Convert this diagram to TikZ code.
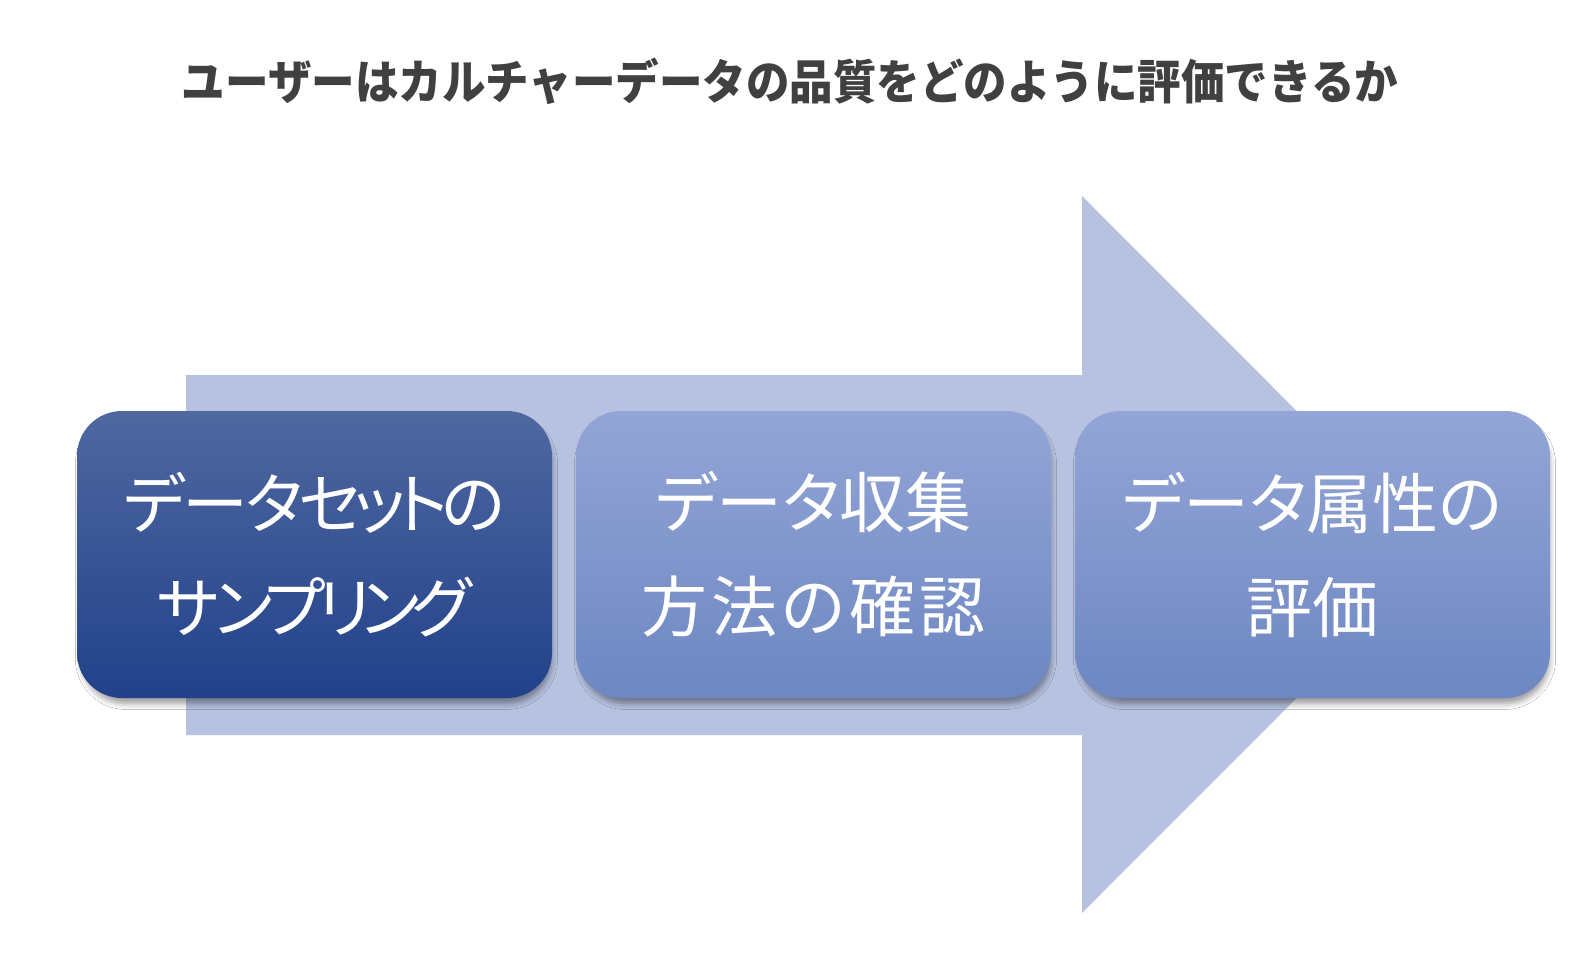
\documentclass[tikz,border=0pt]{standalone}
\usepackage{fontspec}
\usetikzlibrary{shadows.blur}
\newfontfamily\jpbox{Noto Sans CJK JP}[CharacterWidth=AlternateProportional]
\newfontfamily\jptitle{Noto Sans CJK JP}
\definecolor{arrowc}{HTML}{B7C2E0}
\definecolor{darktop}{HTML}{5068A0}
\definecolor{darkbot}{HTML}{21418A}
\definecolor{lighttop}{HTML}{93A5D6}
\definecolor{lightbot}{HTML}{6D87C2}
\definecolor{titlec}{HTML}{404040}
\tikzset{
  stepbox/.style={rectangle, rounded corners=45pt, minimum width=475pt, minimum height=287pt,
    inner sep=0pt, align=center, text=white,
    font=\jpbox\fontsize{66}{104}\selectfont,
    blur shadow={shadow xshift=2pt, shadow yshift=-7pt, shadow scale=0.99, shadow blur radius=6pt, shadow opacity=40}},
  darkbox/.style={stepbox, top color=darktop, bottom color=darkbot},
  lightbox/.style={stepbox, top color=lighttop, bottom color=lightbot}
}
\begin{document}
\begin{tikzpicture}[x=1pt,y=-1pt]
\useasboundingbox (0,0) rectangle (1592,960);
\fill[white] (0,0) rectangle (1592,960);
\node[text=titlec, font=\jptitle\bfseries\fontsize{47.3}{52}\selectfont] (title) at (790,81) {\scalebox{0.92}[1]{ユーザーはカルチャーデータの品質をどのように評価できるか}};
\fill[arrowc] (186,375) -- (1082,375) -- (1082,196) -- (1440,554.5) -- (1082,913) -- (1082,735) -- (186,735) -- cycle;
\node[darkbox] (b1) at (314.5,554.5) {デ\kern-2ptー\kern-3ptタ\kern-4ptセ\kern-8ptッ\kern-9ptト\kern-6ptの\\サ\kern-6ptン\kern-8ptプ\kern-8ptリ\kern-10ptン\kern-8ptグ};
\node[lightbox] (b2) at (813.5,554.5) {データ収集\\方\kern4pt法\kern4ptの\kern4pt確\kern4pt認};
\node[lightbox] (b3) at (1312.5,554.5) {データ属性の\\評価};
\end{tikzpicture}
\end{document}
